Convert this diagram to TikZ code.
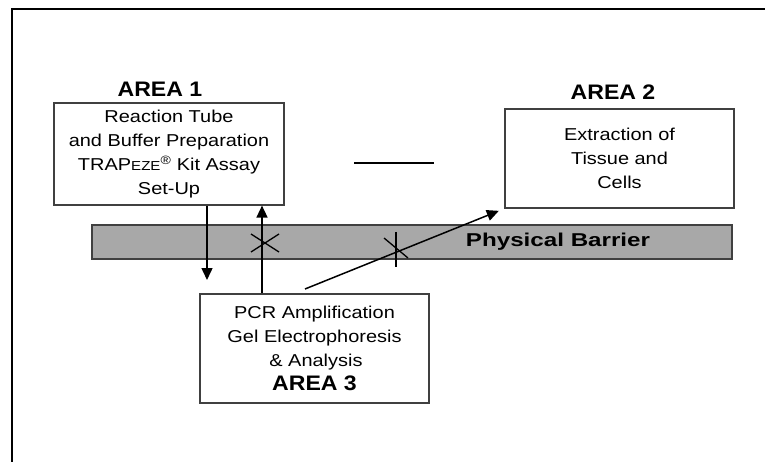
\documentclass[tikz,border=0pt]{standalone}
\usepackage{fontspec}
\setmainfont{Liberation Sans}
\newfontfamily\boxfont{Liberation Sans}[FakeStretch=1.16]
\newfontfamily\areafont{Liberation Sans}[FakeStretch=1.1]
\newfontfamily\barrierfont{Liberation Sans}[FakeStretch=1.3]
\usetikzlibrary{arrows.meta, positioning}
\definecolor{barriergray}{HTML}{A8A8A8}
\definecolor{boxline}{HTML}{404040}

\begin{document}
\begin{tikzpicture}[x=1pt, y=-1pt,
    areabox/.style={draw=boxline, line width=1.2pt, fill=white, inner sep=0pt, align=center,
      font=\boxfont\fontsize{17.2}{24}\selectfont},
    arealabel/.style={font=\areafont\bfseries\fontsize{21}{24}\selectfont},
    arrowline/.style={line width=1.5pt, -{Triangle[length=12pt, width=11pt]}},
    crossline/.style={line width=1.3pt}]
  \useasboundingbox (0,0) rectangle (765,462);
  % outer frame
  \draw[line width=2pt] (12,462) -- (12,9) -- (765,9);
  % physical barrier
  \node[draw=boxline, line width=1.4pt, fill=barriergray, minimum width=640pt, minimum height=34pt,
    inner sep=0pt] (barrier) at (412,242) {};
  \node[font=\barrierfont\bfseries\fontsize{18.6}{20}\selectfont] (barrierlabel) at (558,242) {Physical Barrier};
  % Area 1
  \node[arealabel] (area1label) at (160,89) {AREA 1};
  \node[areabox, minimum width=230pt, minimum height=102pt] (area1box) at (169,154)
    {Reaction Tube\\and Buffer Preparation\\TRAP{\fontsize{13}{24}\selectfont EZE}\textsuperscript{®} Kit Assay\\Set-Up};
  % Area 2
  \node[arealabel] (area2label) at (613,92) {AREA 2};
  \node[areabox, minimum width=229pt, minimum height=99pt] (area2box) at (619.5,158.5)
    {Extraction of\\Tissue and\\Cells};
  \draw[line width=2pt] (354,163) -- (434,163);
  % Area 3
  \node[areabox, minimum width=229pt, minimum height=109pt] (area3box) at (314.5,348.5)
    {PCR Amplification\\Gel Electrophoresis\\\,\& Analysis\\{\areafont\bfseries\fontsize{21}{24}\selectfont AREA 3}};
  % arrows
  \coordinate (downend) at (207,280);
  \coordinate (upx) at (262,0);
  \coordinate (diagstart) at (305,289);
  \draw[arrowline] (area1box.south -| downend) -- (downend);
  \draw[arrowline] (area3box.north -| upx) -- (area1box.south -| upx);
  \draw[arrowline, shorten >=6pt] (diagstart) -- (area2box.south west);
  % blocked crossings
  \coordinate (cross1) at (265,243);
  \coordinate (cross2) at (396,249);
  \draw[crossline] ([shift={(-14,-9)}]cross1) -- ([shift={(14,9)}]cross1);
  \draw[crossline] ([shift={(-14,9)}]cross1) -- ([shift={(14,-9)}]cross1);
  \draw[crossline] ([shift={(0,-17)}]cross2) -- ([shift={(0,18)}]cross2);
  \draw[crossline] ([shift={(-12,-11)}]cross2) -- ([shift={(12,9)}]cross2);
\end{tikzpicture}
\end{document}
